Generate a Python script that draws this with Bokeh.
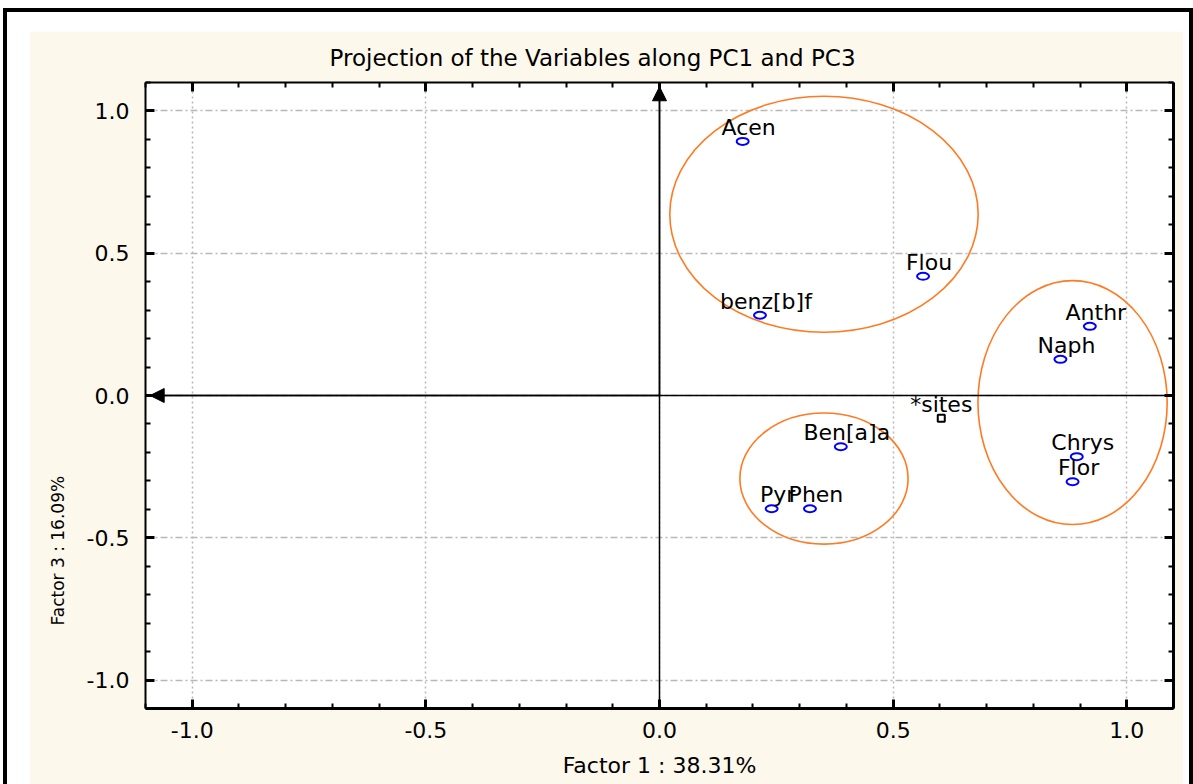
from bokeh.plotting import figure
from bokeh.models import (Range1d, SingleIntervalTicker, LinearAxis, Span, Arrow,
                          NormalHead, Title, PrintfTickFormatter)
from bokeh.core.properties import value
from bokeh.embed import file_html
from bokeh.resources import INLINE

# ---- data ----
names = ["Acen", "Flou", "benz[b]f", "Anthr", "Naph", "Ben[a]a", "Pyr", "Phen", "Chrys", "Flor"]
pc1 = [0.178, 0.564, 0.215, 0.921, 0.858, 0.388, 0.240, 0.322, 0.893, 0.884]
pc3 = [0.893, 0.419, 0.282, 0.243, 0.127, -0.180, -0.398, -0.398, -0.215, -0.303]

sup_names = ["*sites"]
sup_pc1 = [0.603]
sup_pc3 = [-0.080]

# grouping ellipses (centre x, centre y, width, height)
grp_x = [0.352, 0.884, 0.352]
grp_y = [0.637, -0.025, -0.292]
grp_w = [0.660, 0.405, 0.360]
grp_h = [0.830, 0.858, 0.461]

title_text = "Projection of the Variables along PC1 and PC3"
xlabel_text = "Factor 1 : 38.31%"
ylabel_text = "Factor 3 : 16.09%"

FONT = "DejaVu Sans"
CREAM = "#fdf8ec"

p = figure(width=1154, height=753, output_backend="svg", toolbar_location=None,
           x_range=Range1d(-1.1, 1.1), y_range=Range1d(-1.1, 1.1),
           x_axis_location=None, y_axis_location=None,
           min_border_left=116, min_border_right=10, min_border_top=51, min_border_bottom=76)
p.margin = (31, 0, 0, 29)
p.styles = {"box-shadow": "-8px -5px 0 14px white, -8px -5px 0 18px black"}
p.border_fill_color = CREAM
p.background_fill_color = "white"
p.outline_line_color = None

# title
p.title.text = title_text
p.title.align = "left"
p.title.offset = 184
p.title.text_font = FONT
p.title.text_font_size = "23px"
p.title.text_font_style = "normal"
p.title.text_color = "black"
p.title.standoff = 23

ticker = SingleIntervalTicker(interval=0.5, num_minor_ticks=5)

def style_axis(ax, width, labels=True):
    ax.ticker = ticker
    ax.axis_line_color = "black"
    ax.axis_line_width = width
    ax.major_tick_in = 9
    ax.major_tick_out = 0
    ax.minor_tick_in = 5
    ax.minor_tick_out = 0
    ax.major_tick_line_width = 3
    ax.minor_tick_line_width = 2
    ax.major_tick_line_color = "black"
    ax.minor_tick_line_color = "black"
    if labels:
        ax.formatter = PrintfTickFormatter(format="%.1f")
        ax.major_label_text_font = FONT
        ax.major_label_text_font_size = "22px"
        ax.major_label_text_color = "black"
        ax.major_label_standoff = 13
    else:
        ax.major_label_text_font_size = "0px"
        ax.major_label_text_alpha = 0
        ax.major_label_standoff = 0

ax_b = LinearAxis(); style_axis(ax_b, 3)
ax_b.axis_label = xlabel_text
ax_b.axis_label_text_font = FONT
ax_b.axis_label_text_font_size = "22px"
ax_b.axis_label_text_font_style = "normal"
ax_b.axis_label_text_color = "black"
ax_b.axis_label_standoff = 12
p.add_layout(ax_b, "below")

ax_l = LinearAxis(); style_axis(ax_l, 2)
ax_l.major_label_standoff = 16
p.add_layout(ax_l, "left")

ax_t = LinearAxis(); style_axis(ax_t, 2, labels=False)
p.add_layout(ax_t, "above")
ax_r = LinearAxis(); style_axis(ax_r, 3, labels=False); p.add_layout(ax_r, "right")

# vertical axis title
ytitle = Title(text=ylabel_text, align="left", offset=83, text_font=FONT,
               text_font_size="17px", text_font_style="normal", text_color="black",
               standoff=32)
p.add_layout(ytitle, "left")

p.xgrid.ticker = ticker
p.ygrid.ticker = ticker
p.xgrid.grid_line_color = "#b8b8b8"
p.ygrid.grid_line_color = "#b8b8b8"
p.xgrid.grid_line_dash = "2 3"
p.ygrid.grid_line_dash = "7 3 2 3"
p.xgrid.grid_line_width = 1.5
p.ygrid.grid_line_width = 1.5

# zero lines and arrows
p.add_layout(Span(location=0, dimension="height", line_color="black", line_width=1.5))
p.add_layout(Span(location=0, dimension="width", line_color="black", line_width=1.5))
p.add_layout(Arrow(end=NormalHead(size=14, fill_color="black", line_color="black"),
                   x_start=0, y_start=0, x_end=0, y_end=1.085, line_color="black", line_width=1.5))
p.add_layout(Arrow(end=NormalHead(size=14, fill_color="black", line_color="black"),
                   x_start=0, y_start=0, x_end=-1.09, y_end=0, line_color="black", line_width=1.5))

# group ellipses
p.ellipse(x=grp_x, y=grp_y, width=grp_w, height=grp_h, fill_color=None,
          line_color="#ff7a22", line_width=1.6)

# variable points
p.ellipse(x=pc1, y=pc3, width=12, height=7, width_units="screen", height_units="screen",
          fill_color=None, line_color="#0000ff", line_width=2)
p.text(x=pc1, y=pc3, text=names, x_offset=6, y_offset=-14, text_align="center",
       text_baseline="alphabetic", text_font=value(FONT), text_font_size="22px",
       text_color="black")

# supplementary point
p.scatter(x=sup_pc1, y=sup_pc3, marker="square", size=7, fill_color=None,
          line_color="black", line_width=2)
p.text(x=sup_pc1, y=sup_pc3, text=sup_names, x_offset=0, y_offset=-14, text_align="center",
       text_baseline="alphabetic", text_font=value(FONT), text_font_size="22px",
       text_color="black")

open("out.html", "w").write(file_html(p, INLINE))
